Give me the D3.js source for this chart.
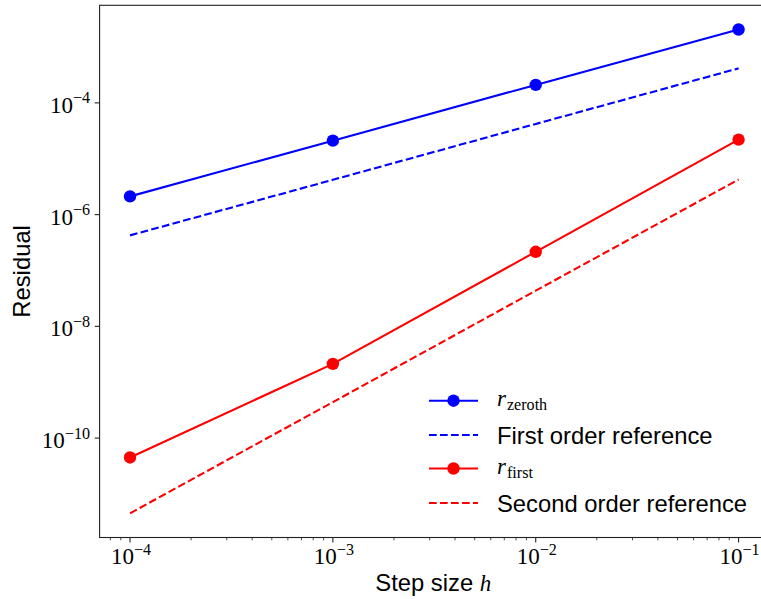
<!DOCTYPE html>
<html>
<head>
<meta charset="utf-8">
<script src="https://cdn.jsdelivr.net/npm/d3@7/dist/d3.min.js"></script>
<style>
  html, body { margin: 0; padding: 0; background: #fff; }
  svg { display: block; }
</style>
</head>
<body>
<svg id="chart" width="761" height="599"></svg>
<script>
// ---- data ----
const stepSizes = [1e-4, 1e-3, 1e-2, 1e-1];
const rZeroth = [2.12e-6, 2.11e-5, 2.10e-4, 2.06e-3];
const firstOrderRef = [4.25e-7, 4.2e-6, 4.2e-5, 4.15e-4];
const rFirst = [4.5e-11, 2.13e-9, 2.16e-7, 2.2e-5];
const secondOrderRef = [4.5e-12, 4.4e-10, 4.35e-8, 4.25e-6];
const xTickExps = [-4, -3, -2, -1];
const yTickExps = [-4, -6, -8, -10];
const seriesLabels = ["zeroth", "First order reference", "first", "Second order reference"];
const axisLabels = { x: "Step size ", xVar: "h", y: "Residual" };

// ---- layout ----
const svg = d3.select("#chart");
const L = 99.6, R = 769, T = 5.3, B = 537.5;
const x = d3.scaleLog().domain([Math.pow(10, -4.15), Math.pow(10, -0.85)]).range([L, R]);
const y = d3.scaleLog().domain([Math.pow(10, -11.78), Math.pow(10, -2.253)]).range([B, T]);
const serif = "'Liberation Serif', 'DejaVu Serif', serif";
const sans = "'Liberation Sans', Arial, sans-serif";
const FS = 23;
const FSS = 23.8;

// clip
svg.append("defs").append("clipPath").attr("id", "clip")
  .append("rect").attr("x", L).attr("y", T).attr("width", R - L).attr("height", B - T);

// ---- series ----
const line = d3.line().x(d => x(d[0])).y(d => y(d[1]));
const plot = svg.append("g").attr("clip-path", "url(#clip)");
function drawSeries(vals, color, dashed, markers) {
  const pts = stepSizes.map((h, i) => [h, vals[i]]);
  plot.append("path").datum(pts).attr("d", line)
    .attr("fill", "none").attr("stroke", color).attr("stroke-width", 2.1)
    .attr("stroke-dasharray", dashed ? "7.7,3.3" : null);
  if (markers) {
    plot.selectAll(null).data(pts).enter().append("circle")
      .attr("cx", d => x(d[0])).attr("cy", d => y(d[1])).attr("r", 6.2)
      .attr("fill", color);
  }
}
drawSeries(firstOrderRef, "#0000ff", true, false);
drawSeries(secondOrderRef, "#ff0000", true, false);
drawSeries(rZeroth, "#0000ff", false, true);
drawSeries(rFirst, "#ff0000", false, true);

// ---- frame ----
svg.append("rect").attr("x", L).attr("y", T).attr("width", R - L).attr("height", B - T)
  .attr("fill", "none").attr("stroke", "#222").attr("stroke-width", 1.1);

// ---- x ticks ----
const xMinor = [];
for (let e = -5; e <= 0; e++) for (let m = 2; m <= 9; m++) {
  const v = m * Math.pow(10, e);
  const lv = Math.log10(v);
  if (lv >= -4.15 && lv <= -0.85) xMinor.push(v);
}
const gx = svg.append("g");
gx.selectAll(null).data(xMinor).enter().append("line")
  .attr("x1", d => x(d)).attr("x2", d => x(d)).attr("y1", B).attr("y2", B + 2.8)
  .attr("stroke", "#222").attr("stroke-width", 0.8);
gx.selectAll(null).data(xTickExps).enter().append("line")
  .attr("x1", d => x(Math.pow(10, d))).attr("x2", d => x(Math.pow(10, d)))
  .attr("y1", B).attr("y2", B + 4.9).attr("stroke", "#222").attr("stroke-width", 1.1);

function powLabel(g, e, px, py, anchor) {
  const t = g.append("text").attr("x", px).attr("y", py)
    .attr("font-family", serif).attr("font-size", FS).attr("fill", "#000")
    .attr("text-anchor", anchor);
  t.append("tspan").text("10");
  t.append("tspan").attr("font-size", FS * 0.7).attr("dy", -9.5).text("\u2212" + Math.abs(e));
  return t;
}
xTickExps.forEach(e => powLabel(gx, e, x(Math.pow(10, e)) + 1, 564, "middle"));

// ---- y ticks ----
const gy = svg.append("g");
gy.selectAll(null).data(yTickExps).enter().append("line")
  .attr("x1", L - 4.9).attr("x2", L)
  .attr("y1", d => y(Math.pow(10, d))).attr("y2", d => y(Math.pow(10, d)))
  .attr("stroke", "#222").attr("stroke-width", 1.1);
yTickExps.forEach(e => powLabel(gy, e, 90, y(Math.pow(10, e)) + 10, "end"));

// ---- axis labels ----
const xl = svg.append("text").attr("x", (L + R) / 2 - 1).attr("y", 591)
  .attr("text-anchor", "middle").attr("font-family", sans).attr("font-size", FSS).attr("fill", "#000");
xl.append("tspan").text(axisLabels.x);
xl.append("tspan").attr("font-family", serif).attr("font-style", "italic").attr("font-size", FS).text(axisLabels.xVar);

svg.append("text").attr("transform", `translate(29.5, ${(T + B) / 2}) rotate(-90)`)
  .attr("text-anchor", "middle").attr("font-family", sans).attr("font-size", FSS).attr("fill", "#000")
  .text(axisLabels.y);

// ---- legend ----
const leg = svg.append("g");
const rows = [
  { c: "#0000ff", dashed: false, math: true, label: seriesLabels[0], cy: 400.7 },
  { c: "#0000ff", dashed: true, math: false, label: seriesLabels[1], cy: 435 },
  { c: "#ff0000", dashed: false, math: true, label: seriesLabels[2], cy: 468.5 },
  { c: "#ff0000", dashed: true, math: false, label: seriesLabels[3], cy: 503 }
];
rows.forEach(r => {
  leg.append("line").attr("x1", 429).attr("x2", 478).attr("y1", r.cy).attr("y2", r.cy)
    .attr("stroke", r.c).attr("stroke-width", 2.1)
    .attr("stroke-dasharray", r.dashed ? "7.7,3.3" : null);
  if (!r.dashed) leg.append("circle").attr("cx", 453.5).attr("cy", r.cy).attr("r", 6.2).attr("fill", r.c);
  if (r.math) {
    const t = leg.append("text").attr("x", 497).attr("y", r.cy + 5)
      .attr("font-family", serif).attr("font-size", FS).attr("fill", "#000");
    t.append("tspan").attr("font-style", "italic").text("r");
    t.append("tspan").attr("font-size", FS * 0.7).attr("dy", 4).attr("dx", 1).text(r.label);
  } else {
    leg.append("text").attr("x", 497).attr("y", r.cy + 8.5)
      .attr("font-family", sans).attr("font-size", FSS).attr("fill", "#000").text(r.label);
  }
});
</script>
</body>
</html>
